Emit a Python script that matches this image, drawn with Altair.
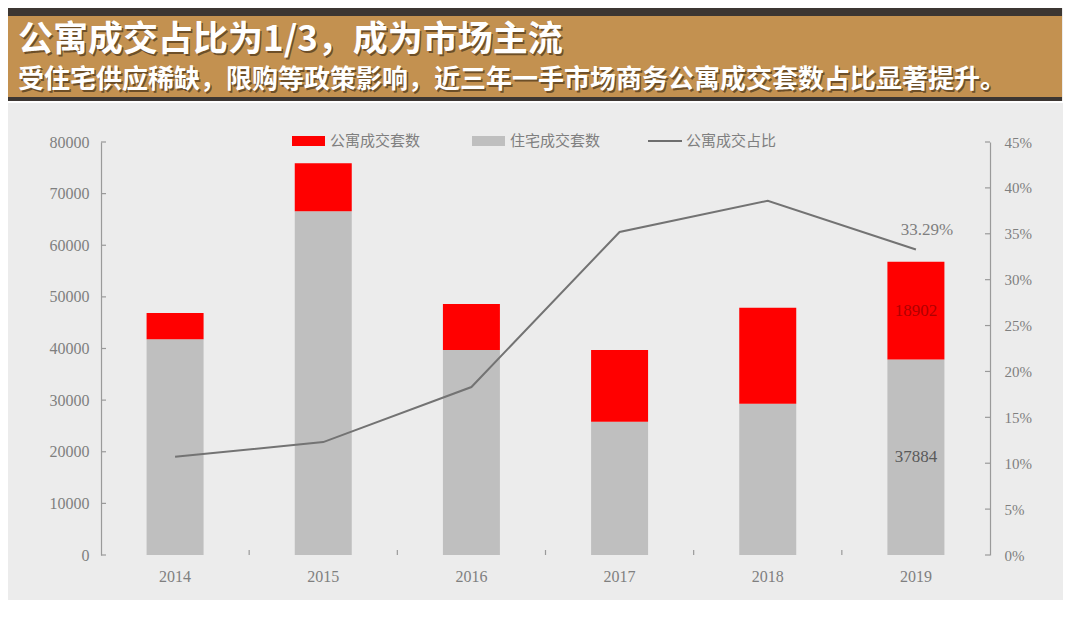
import altair as alt
import pandas as pd

# ---- data ----
years = ["2014", "2015", "2016", "2017", "2018", "2019"]
residential = [41800, 66600, 39700, 25800, 29300, 37884]   # 住宅成交套数
apartment = [5100, 9300, 8900, 13900, 18600, 18902]        # 公寓成交套数
ratio = [10.7, 12.3, 18.3, 35.2, 38.6, 33.29]              # 公寓成交占比 (%)
left_ticks = [0, 10000, 20000, 30000, 40000, 50000, 60000, 70000, 80000]
right_ticks = [0, 5, 10, 15, 20, 25, 30, 35, 40, 45]
legend_labels = ["公寓成交套数", "住宅成交套数", "公寓成交占比"]
title_text = "公寓成交占比为1/3，成为市场主流"
subtitle_text = "受住宅供应稀缺，限购等政策影响，近三年一手市场商务公寓成交套数占比显著提升。"

df = pd.DataFrame({"year": years, "res": residential, "apt": apartment, "ratio": ratio})
df["total"] = df["res"] + df["apt"]
df_lt = pd.DataFrame({"v": left_ticks})
df_rt = pd.DataFrame({"p": right_ticks})
one = pd.DataFrame({"k": [0]})

SERIF = "Liberation Serif"
CJK = "Noto Sans CJK SC"
LBL = "#7f7f7f"
AX = "#9a9a9a"
W, H = 889, 413

xscale = alt.Scale(domain=years, paddingInner=0, paddingOuter=0)
x_axis = alt.X("year:N", scale=xscale, axis=alt.Axis(
    title=None, labels=False, ticks=False, domainColor=AX, domainWidth=1.2, zindex=1))
x_plain = alt.X("year:N", scale=xscale, axis=None)
yscale = alt.Scale(domain=[0, 80000], nice=False, zero=True)
pscale = alt.Scale(domain=[0, 45], nice=False, zero=True)

base = alt.Chart(one)

# ---- header band ----
hdr_top = base.mark_rect(color="#3c3632").encode(
    x=alt.value(-94), x2=alt.value(961), y=alt.value(-134), y2=alt.value(-126))
hdr_band = base.mark_rect(color="#c39150").encode(
    x=alt.value(-94), x2=alt.value(961), y=alt.value(-126), y2=alt.value(-45))
hdr_bot = base.mark_rect(color="#3c3632").encode(
    x=alt.value(-94), x2=alt.value(961), y=alt.value(-45), y2=alt.value(-41))
hdr_gap = base.mark_rect(color="#ffffff").encode(
    x=alt.value(-94), x2=alt.value(962), y=alt.value(-41), y2=alt.value(-39))
hdr_pre = base.mark_rect(color="#ffffff").encode(
    x=alt.value(-94), x2=alt.value(962), y=alt.value(-135), y2=alt.value(-134))

def header_text(txt, size, y):
    sh = base.mark_text(font=CJK, fontSize=size, fontWeight="bold", align="left",
                        baseline="middle", color="#4a3418", opacity=0.7).encode(
        x=alt.value(-83 + 1.5), y=alt.value(y + 1.5), text=alt.value(txt))
    fg = base.mark_text(font=CJK, fontSize=size, fontWeight="bold", align="left",
                        baseline="middle", color="#ffffff").encode(
        x=alt.value(-83), y=alt.value(y), text=alt.value(txt))
    return [sh, fg]

title_layers = header_text(title_text, 35, -102) + header_text(subtitle_text, 26, -62)

# ---- legend ----
leg = [
    base.mark_rect(color="#ff0000").encode(x=alt.value(191), x2=alt.value(224), y=alt.value(-6), y2=alt.value(4)),
    base.mark_rect(color="#bfbfbf").encode(x=alt.value(371), x2=alt.value(404), y=alt.value(-6), y2=alt.value(4)),
    base.mark_rule(color="#6e6e6e", strokeWidth=2).encode(x=alt.value(547), x2=alt.value(581), y=alt.value(-1)),
]
for xpos, lab in zip([229, 409, 585], legend_labels):
    leg.append(base.mark_text(font=CJK, fontSize=15, align="left", baseline="middle", color=LBL).encode(
        x=alt.value(xpos), y=alt.value(-1), text=alt.value(lab)))

# ---- bars (left scale) ----
bars_res = alt.Chart(df).mark_bar(size=57, color="#bfbfbf").encode(
    x=x_axis,
    y=alt.Y("res:Q", scale=yscale, axis=alt.Axis(
        orient="left", title=None, values=left_ticks, format="d", ticks=False, grid=False,
        labelPadding=12, labelFont=SERIF, labelFontSize=16, labelColor=LBL, domainColor=AX,
        domainWidth=1.2, zindex=1)))
bars_apt = alt.Chart(df).mark_bar(size=57, color="#ff0000").encode(
    x=x_plain, y=alt.Y("total:Q", scale=yscale, axis=None), y2="res:Q")

left_tick_rules = alt.Chart(df_lt).mark_rule(color=AX, strokeWidth=1.2).encode(
    y=alt.Y("v:Q", scale=yscale, axis=None), x=alt.value(0), x2=alt.value(5))
bottom_tick_rules = alt.Chart(df).transform_filter("datum.year != '2019'").mark_rule(
    color=AX, strokeWidth=1.2).encode(
    x=alt.X("year:N", scale=xscale, axis=None, bandPosition=1),
    y=alt.value(H - 5), y2=alt.value(H))
year_labels = alt.Chart(df).mark_text(font=SERIF, fontSize=16, color=LBL, baseline="middle").encode(
    x=x_plain, y=alt.value(H + 22), text="year:N")

lab_res = alt.Chart(df).transform_filter("datum.year == '2019'").transform_calculate(
    mid="datum.res / 2").mark_text(font=SERIF, fontSize=17, color="#5a5a5a", baseline="middle").encode(
    x=x_plain, y=alt.Y("mid:Q", scale=yscale, axis=None), text=alt.Text("res:Q", format="d"))
lab_apt = alt.Chart(df).transform_filter("datum.year == '2019'").transform_calculate(
    mid="datum.res + datum.apt / 2").mark_text(font=SERIF, fontSize=17, color="#b00000", baseline="middle").encode(
    x=x_plain, y=alt.Y("mid:Q", scale=yscale, axis=None), text=alt.Text("apt:Q", format="d"))

# ---- line (right scale) ----
line = alt.Chart(df).mark_line(color="#737373", strokeWidth=2).encode(
    x=x_plain,
    y=alt.Y("ratio:Q", scale=pscale, axis=alt.Axis(
        orient="right", title=None, values=right_ticks, ticks=False, grid=False,
        labelExpr="datum.value + '%'", labelPadding=14, labelFont=SERIF,
        labelFontSize=15, labelColor=LBL, domainColor=AX, domainWidth=1.2, zindex=1)))
right_tick_rules = alt.Chart(df_rt).mark_rule(color=AX, strokeWidth=1.2).encode(
    y=alt.Y("p:Q", scale=pscale, axis=None), x=alt.value(W - 5), x2=alt.value(W))
line_label = alt.Chart(df).transform_filter("datum.year == '2019'").transform_calculate(
    t="format(datum.ratio, '.2f') + '%'").mark_text(
    font=SERIF, fontSize=17, color=LBL, dx=11, dy=-19, baseline="middle").encode(
    x=x_plain, y=alt.Y("ratio:Q", scale=pscale, axis=None), text="t:N")

chart = alt.layer(
    hdr_pre, hdr_top, hdr_band, hdr_bot, hdr_gap, *title_layers, *leg,
    bars_res, bars_apt, left_tick_rules, bottom_tick_rules, year_labels, lab_res, lab_apt,
    line, right_tick_rules, line_label,
).resolve_scale(y="independent").properties(
    width=W, height=H, autosize=alt.AutoSizeParams(type="none"),
    padding={"left": 93, "top": 134, "right": 73, "bottom": 45},
    background="#ececec").configure_view(stroke=None)

chart.save("out.html", embed_options={"renderer": "svg", "actions": False})
